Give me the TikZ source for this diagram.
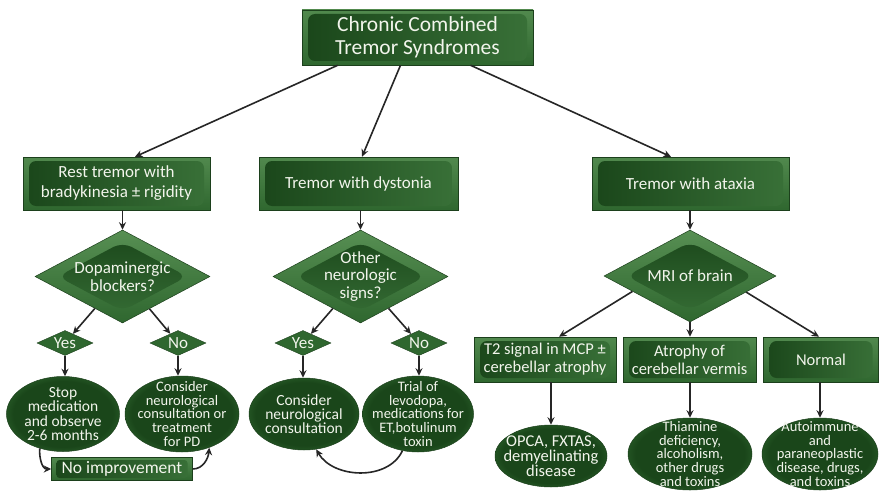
\documentclass[tikz,border=0pt]{standalone}
\usepackage{fontspec}
\setmainfont{Carlito}
\usetikzlibrary{shapes.geometric,arrows.meta,calc}
\definecolor{gdark}{HTML}{1A461A}
\definecolor{gmid}{HTML}{2F672F}
\definecolor{glight}{HTML}{578F53}
\definecolor{gedge}{HTML}{1C401C}
\definecolor{gtext}{HTML}{F2F5EC}
\pgfdeclareradialshading{ellsh}{\pgfpoint{0bp}{0bp}}{color(0bp)=(gdark); color(22bp)=(gdark); color(30bp)=(gmid); color(33.5bp)=(glight); color(36bp)=(gmid); color(50bp)=(gmid)}
\begin{document}
\begin{tikzpicture}[x=1pt,y=-1pt,
  gbox/.style={rectangle, draw=gedge, line width=0.5pt, top color=glight!85!gmid, bottom color=gmid,
    text=gtext, align=center, inner sep=0pt,
    path picture={\shade[rounded corners=7pt, left color=gdark, right color=gmid!75!glight]
      ([shift={(6pt,4pt)}]path picture bounding box.south west) rectangle
      ([shift={(-6pt,-4pt)}]path picture bounding box.north east);}},
  gdia/.style={diamond, draw=gedge, line width=0.5pt, top color=glight, bottom color=gmid, inner sep=0pt,
    path picture={\shade[rounded corners=10pt, top color=gdark, bottom color=gmid!80!glight]
      ($(path picture bounding box.center)!0.74!(path picture bounding box.north)$) --
      ($(path picture bounding box.center)!0.74!(path picture bounding box.east)$) --
      ($(path picture bounding box.center)!0.74!(path picture bounding box.south)$) --
      ($(path picture bounding box.center)!0.74!(path picture bounding box.west)$) -- cycle;}},
  dtxt/.style={text=gtext, align=center, font=\fontsize{17}{17.5}\selectfont},
  small/.style={diamond, fill=gmid, draw=gedge, line width=0.4pt, minimum width=56pt, minimum height=25pt, inner sep=0pt},
  ytxt/.style={text=gtext, font=\fontsize{17}{18}\selectfont},
  gell/.style={ellipse, draw=gedge, line width=0.5pt, shading=ellsh, inner sep=0pt},
  etxt/.style={text=gtext, align=center, font=\fontsize{15.5}{14.2}\selectfont},
  etxtb/.style={text=gtext, align=center, font=\fontsize{16.5}{15.2}\selectfont},
  etxtc/.style={text=gtext, align=center, font=\fontsize{14.5}{13.6}\selectfont},
  arr/.style={draw=black!85, line width=1.6pt, -{Stealth[length=7.5pt,width=7pt]}}
]
\useasboundingbox[fill=white] (0,0) rectangle (880,492);

% title
\node[gbox, minimum width=231pt, minimum height=55pt, font=\fontsize{21.5}{23}\selectfont] (title) at (417.5,37.5) {Chronic Combined\\Tremor Syndromes};

% level 2
\node[gbox, minimum width=187pt, minimum height=53pt, font=\fontsize{17}{20}\selectfont] (b1) at (116.5,183.5) {Rest tremor with\\bradykinesia ± rigidity};
\node[gbox, minimum width=199pt, minimum height=53pt, font=\fontsize{17}{20}\selectfont] (b2) at (358.5,183.5) {Tremor with dystonia};
\node[gbox, minimum width=197pt, minimum height=53pt, font=\fontsize{17}{20}\selectfont] (b3) at (690.5,183.5) {Tremor with ataxia};

% diamonds
\node[gdia, minimum width=175pt, minimum height=93pt, label={[dtxt]center:{Dopaminergic\\blockers?}}] (d1) at (122.5,276.5) {};
\node[gdia, minimum width=175pt, minimum height=93pt, label={[dtxt]center:{Other\\neurologic\\signs?}}] (d2) at (360.5,276.5) {};
\node[gdia, minimum width=172pt, minimum height=92pt, label={[dtxt]center:{MRI of brain}}] (d3) at (690,276) {};

% yes / no
\node[small, label={[ytxt]center:Yes}] (y1) at (65,343) {};
\node[small, label={[ytxt]center:No}] (n1) at (178,343) {};
\node[small, label={[ytxt]center:Yes}] (y2) at (303,343) {};
\node[small, label={[ytxt]center:No}] (n2) at (419,343) {};

% left ellipses
\node[gell, minimum width=113pt, minimum height=75pt, label={[etxt]center:{Stop\\medication\\and observe\\2-6 months}}] (e1) at (63,414) {};
\node[gell, minimum width=114pt, minimum height=76pt, label={[etxtc]center:{Consider\\neurological\\consultation or\\treatment\\for PD}}] (e2) at (182,414) {};
\node[gell, minimum width=110pt, minimum height=72pt, label={[etxt]center:{Consider\\neurological\\consultation}}] (e3) at (304,414) {};
\node[gell, minimum width=111pt, minimum height=76pt, label={[etxtc]center:{Trial of\\levodopa,\\medications for\\ET,botulinum\\toxin}}] (e4) at (418,414) {};

% no improvement
\node[gbox, minimum width=141pt, minimum height=23pt, font=\fontsize{17.5}{19}\selectfont,
  path picture={\shade[rounded corners=3pt, left color=gdark, right color=gmid!75!glight]
      ([shift={(5pt,2.5pt)}]path picture bounding box.south west) rectangle
      ([shift={(-5pt,-2.5pt)}]path picture bounding box.north east);}] (noimp) at (122,469) {No improvement};

% level 4 boxes
\node[gbox, minimum width=142pt, minimum height=45pt, font=\fontsize{16.5}{18}\selectfont] (bA) at (545,359.5) {T2 signal in MCP ±\\cerebellar atrophy};
\node[gbox, minimum width=133pt, minimum height=45pt, font=\fontsize{16.5}{18}\selectfont] (bB) at (689.5,359.5) {Atrophy of\\cerebellar vermis};
\node[gbox, minimum width=115pt, minimum height=45pt, font=\fontsize{16.5}{18}\selectfont] (bC) at (821,359.5) {Normal};

% right ellipses
\node[gell, minimum width=112pt, minimum height=62pt, label={[etxtb]center:{OPCA, FXTAS,\\demyelinating\\disease}}] (e5) at (551,456) {};
\node[gell, minimum width=124pt, minimum height=72pt, label={[etxtc]center:{Thiamine\\deficiency,\\alcoholism,\\other drugs\\and toxins}}] (e6) at (690,454) {};
\node[gell, minimum width=116pt, minimum height=72pt, label={[etxtc]center:{Autoimmune\\and\\paraneoplastic\\disease, drugs,\\and toxins}}] (e7) at (820,454) {};

% connectors
\draw[arr] ([xshift=36pt]title.south west) -- ([xshift=18.5pt]b1.north);
\draw[arr] ([xshift=-17pt]title.south) -- ([xshift=3.5pt]b2.north);
\draw[arr] ([xshift=53pt]title.south) -- ([xshift=-19.5pt]b3.north);

\draw[arr] (b1.south -| d1.north) -- (d1.north);
\draw[arr] (b2.south -| d2.north) -- (d2.north);
\draw[arr] (b3.south -| d3.north) -- (d3.north);

\draw[arr] (d1) -- (y1);
\draw[arr] (d1) -- (n1);
\draw[arr] (d2) -- (y2);
\draw[arr] (d2) -- (n2);

\draw[arr] (y1.south) -- (y1.south |- e1.north);
\draw[arr] (n1.south) -- (n1.south |- e2.north);
\draw[arr] (y2.south) -- (y2.south |- e3.north);
\draw[arr] (n2.south) -- (n2.south |- e4.north);

\draw[arr] (e1.-124) to[out=-95, in=180] (noimp.west);
\draw[arr] (noimp.east) to[out=0, in=-95] (e2.-51);
\draw[arr] (e4.-113) to[out=-115, in=-60] (e3.-71);

\draw[arr] (d3.-165) -- ([xshift=14pt]bA.north);
\draw[arr] (d3.south) -- (d3.south |- bB.north);
\draw[arr] (d3.-16) -- ([xshift=-2pt]bC.north);

\draw[arr] (bA.south -| e5.north) -- (e5.north);
\draw[arr] (bB.south -| e6.north) -- (e6.north);
\draw[arr] (bC.south -| e7.north) -- (e7.north);
\end{tikzpicture}
\end{document}
